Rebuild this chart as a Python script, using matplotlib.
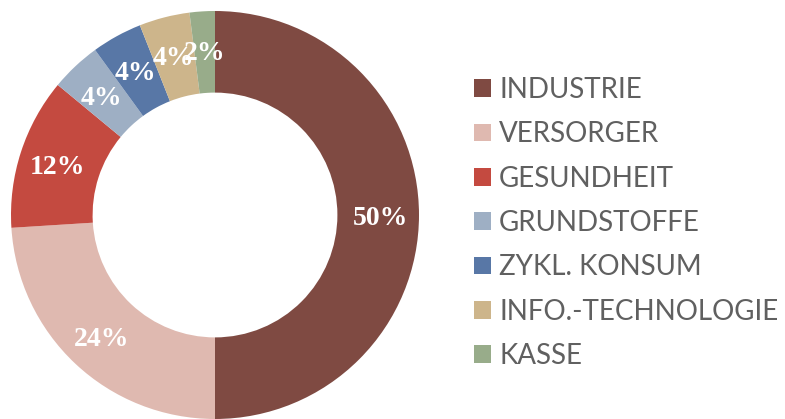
import matplotlib.pyplot as plt

# sector weights (%)
sectors = ['INDUSTRIE', 'VERSORGER', 'GESUNDHEIT', 'GRUNDSTOFFE',
           'ZYKL. KONSUM', 'INFO.-TECHNOLOGIE', 'KASSE']
weights = [50, 24, 12, 4, 4, 4, 2]
colors = ['#7F4A42', '#DFB9B0', '#C44A40', '#9EAFC4',
          '#5877A6', '#CDB58B', '#98AC8A']

fig = plt.figure(figsize=(7.85, 4.19), dpi=100)
ax = fig.add_axes([11 / 785, 0.0, 408 / 785, 408 / 419])

wedges, texts, autotexts = ax.pie(
    weights, colors=colors, startangle=90, counterclock=False,
    radius=1.0, wedgeprops=dict(width=0.4, linewidth=0),
    autopct='%1.0f%%', pctdistance=0.81,
    textprops=dict(color='white', family='Liberation Serif',
                   fontweight='bold', fontsize=20))
# nudge the labels slightly down, like the original
for t in autotexts:
    x, y = t.get_position()
    t.set_position((x, y - 0.018))
ax.set_xlim(-1, 1)
ax.set_ylim(-1, 1)
ax.set_aspect('equal')

leg = fig.legend(wedges, sectors, loc='upper left',
                 bbox_to_anchor=(474 / 785, 1 - 77 / 419),
                 frameon=False, handlelength=0.61, handleheight=0.61,
                 handletextpad=0.29, labelspacing=0.66,
                 borderpad=0, borderaxespad=0,
                 prop=dict(family='Lato', size=20))
for t in leg.get_texts():
    t.set_color('#606060')

fig.savefig('out.png', dpi=100)
